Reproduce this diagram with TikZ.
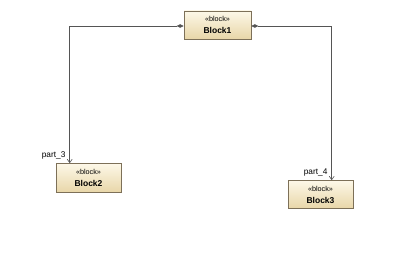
\documentclass[tikz,border=0pt]{standalone}
\usepackage{fontspec}
\setmainfont{Liberation Sans}
\usetikzlibrary{arrows.meta,positioning,calc,shadows}

\definecolor{blocktop}{RGB}{253,248,232}
\definecolor{blockbot}{RGB}{232,214,168}
\definecolor{blockline}{RGB}{125,112,88}
\definecolor{wire}{RGB}{85,85,85}
\newcommand{\stereofont}{\fontsize{7.2}{8}\selectfont}

\begin{document}
\begin{tikzpicture}[
  x=1pt, y=-1pt,
  blockbox/.style={draw=blockline, line width=0.6pt, top color=blocktop, bottom color=blockbot,
    align=center, inner sep=0pt, font=\fontsize{8.5}{12}\selectfont,
    drop shadow={shadow xshift=1pt, shadow yshift=-1pt, fill=black!22}},
  part/.style={draw=wire, line width=0.6pt, {Diamond[length=7pt,width=3.5pt]}-{Straight Barb[length=3.5pt,width=5pt]}},
  role/.style={font=\fontsize{8.3}{9}\selectfont, inner sep=0pt}
]
\useasboundingbox (0,0) rectangle (410,259);

\node[blockbox, minimum width=67pt, minimum height=28pt] (block1) at (217.5,25) {{\stereofont «block»}\\\textbf{Block1}};
\node[blockbox, minimum width=65pt, minimum height=29pt] (block2) at (88.5,178) {{\stereofont «block»}\\\textbf{Block2}};
\node[blockbox, minimum width=65pt, minimum height=28pt] (block3) at (320.5,194.5) {{\stereofont «block»}\\\textbf{Block3}};

\draw[part] ([yshift=-1pt]block1.west) -| ($(block2.north west)+(14,0)$)
  node[role, pos=1, anchor=south east, xshift=-4pt, yshift=4pt] {part\_3};
\draw[part] ([yshift=-1pt]block1.east) -| ($(block3.north west)+(44,0)$)
  node[role, pos=1, anchor=south east, xshift=-4pt, yshift=4pt] {part\_4};

\end{tikzpicture}
\end{document}
